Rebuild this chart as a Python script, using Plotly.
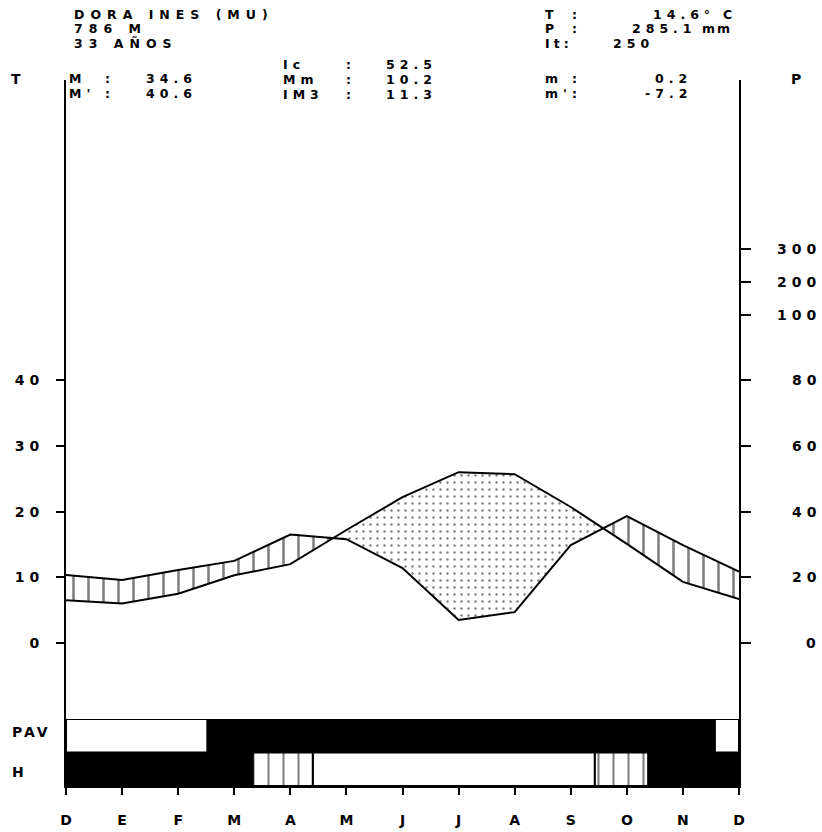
import plotly.graph_objects as go

# ---------------- data ----------------
months = ["D", "E", "F", "M", "A", "M", "J", "J", "A", "S", "O", "N", "D"]
temp = [6.5, 6.0, 7.5, 10.3, 12.0, 17.2, 22.2, 26.0, 25.7, 20.7, 15.1, 9.3, 6.7]      # deg C
prec = [20.7, 19.2, 22.2, 25.0, 33.0, 31.6, 22.8, 7.0, 9.4, 29.8, 38.6, 29.8, 21.7]   # mm

t_ticks = [0, 10, 20, 30, 40]
p_ticks = [0, 20, 40, 60, 80, 100, 200, 300]

# bottom strips: (start month, end month, kind)
pav_segments = [(0, 2.52, "white"), (2.52, 11.57, "black"), (11.57, 12, "white")]
h_segments = [(0, 3.33, "black"), (3.33, 4.40, "hatch"), (4.40, 9.43, "white"),
              (9.43, 10.38, "hatch"), (10.38, 12, "black")]

# ---------------- geometry ----------------
W, H = 822, 832
ML, MR, MT, MB = 66, 83, 80, 46
PW, PH = W - ML - MR, H - MT - MB
T0_PX, T10_PX = 643, 65.7  # pixel of T=0, pixels per 10 deg
y_lo = -(H - MB - T0_PX) / (T10_PX / 10)
y_hi = (T0_PX - MT) / (T10_PX / 10)


def p_to_t(p):
    # Walter-Lieth scale: P = 2T up to 100 mm, reduced 1/10 above
    return p / 2 if p <= 100 else 50 + (p - 100) / 20


def px(x):
    return (x - ML) / PW


def py(y):
    return (H - MB - y) / PH


FONT = "DejaVu Sans"


def sp(s, ls=3):
    return f'<span style="letter-spacing:{ls}px">{s}</span>'


# ---------------- curves with crossings ----------------
xs, tt, pp = [], [], []
n = len(temp)
for i in range(n):
    xs.append(i)
    tt.append(temp[i])
    pp.append(prec[i] / 2)
    if i < n - 1:
        d0 = prec[i] / 2 - temp[i]
        d1 = prec[i + 1] / 2 - temp[i + 1]
        if d0 * d1 < 0:
            f = d0 / (d0 - d1)
            xc = i + f
            tc = temp[i] + f * (temp[i + 1] - temp[i])
            xs.append(xc)
            tt.append(tc)
            pp.append(tc)

upper = [max(a, b) for a, b in zip(tt, pp)]
lower = [min(a, b) for a, b in zip(tt, pp)]

fig = go.Figure()
nol = dict(width=0)
# humid (vertical hatching)
fig.add_trace(go.Scatter(x=xs, y=tt, mode="lines", line=nol, showlegend=False, hoverinfo="skip"))
fig.add_trace(go.Scatter(x=xs, y=upper, mode="lines", line=nol, fill="tonexty", fillcolor="white",
                         fillpattern=dict(shape="|", size=15, solidity=0.17, fgcolor="black",
                                          bgcolor="white"),
                         showlegend=False, hoverinfo="skip"))
# arid (dots)
fig.add_trace(go.Scatter(x=xs, y=lower, mode="lines", line=nol, showlegend=False, hoverinfo="skip"))
fig.add_trace(go.Scatter(x=xs, y=tt, mode="lines", line=nol, fill="tonexty", fillcolor="white",
                         fillpattern=dict(shape=".", size=7, solidity=0.1, fgcolor="black",
                                          bgcolor="white"),
                         showlegend=False, hoverinfo="skip"))
# lines
fig.add_trace(go.Scatter(x=list(range(n)), y=temp, mode="lines", line=dict(color="black", width=2),
                         showlegend=False, name="T"))
fig.add_trace(go.Scatter(x=list(range(n)), y=[p / 2 for p in prec], mode="lines",
                         line=dict(color="black", width=2), showlegend=False, name="P"))

# ---------------- bottom strip ----------------
rows = {"PAV": 1, "H": 0}
for kind in ["black", "white", "hatch"]:
    bx, bb, by = [], [], []
    for name, segs in (("PAV", pav_segments), ("H", h_segments)):
        for a, b, k in segs:
            if k == kind:
                bx.append(b - a)
                bb.append(a)
                by.append(rows[name])
    if not bx:
        continue
    if kind == "black":
        marker = dict(color="black", line=dict(color="black", width=1))
    elif kind == "white":
        marker = dict(color="white", line=dict(color="black", width=2))
    else:
        marker = dict(color="white", line=dict(color="black", width=2),
                      pattern=dict(shape="|", size=15, solidity=0.14, fgcolor="black",
                                   bgcolor="white"))
    fig.add_trace(go.Bar(x=bx, base=bb, y=by, orientation="h", width=1, marker=marker,
                         yaxis="y3", showlegend=False, hoverinfo="skip"))

tickfont = dict(family=FONT, size=14, color="black", weight="bold")

fig.update_layout(
    width=W, height=H, margin=dict(l=ML, r=MR, t=MT, b=MB),
    paper_bgcolor="white", plot_bgcolor="white", barmode="overlay",
    xaxis=dict(range=[0, 12], showgrid=False, zeroline=False, showline=True, linecolor="black",
               linewidth=2, ticks="outside", ticklen=7, tickwidth=2, tickcolor="black",
               tickvals=list(range(13)), ticktext=[sp(m, 0) for m in months], tickfont=tickfont,
               ticklabelstandoff=13, automargin=False, fixedrange=True),
    yaxis=dict(range=[y_lo, y_hi], showgrid=False, zeroline=False, showline=True,
               linecolor="black", linewidth=2, ticks="outside", ticklen=8, tickwidth=2,
               tickcolor="black", tickvals=t_ticks, ticktext=[sp(str(v), 5) for v in t_ticks],
               tickfont=tickfont, ticklabelstandoff=9, automargin=False),
    yaxis2=dict(range=[y_lo, y_hi], overlaying="y", side="right", anchor="x", showgrid=False,
                zeroline=False, showline=True, linecolor="black", linewidth=2, ticks="outside",
                ticklen=10, tickwidth=2, tickcolor="black", automargin=False,
                tickvals=[p_to_t(p) for p in p_ticks], showticklabels=False),
    yaxis3=dict(domain=[0, (H - MB - 719) / PH], range=[-0.5, 1.5], anchor="x", visible=False,
                automargin=False),
)
# invisible trace to activate y2
fig.add_trace(go.Scatter(x=[0], y=[0], yaxis="y2", mode="markers", marker=dict(opacity=0),
                         showlegend=False, hoverinfo="skip"))

annots = []
TS = 12.5


def txt(s, x, y, anchor="left", ls=5, size=TS):
    annots.append(dict(text=sp(s, ls), x=px(x), y=py(y), xref="paper", yref="paper",
                       xanchor=anchor, yanchor="middle", showarrow=False, borderpad=0,
                       font=dict(family=FONT, size=size, color="black", weight="bold")))


# right axis labels
for p in p_ticks:
    annots.append(dict(text=sp(str(p), 5), x=px(822), y=p_to_t(p), xref="paper", yref="y2",
                       xanchor="right", yanchor="middle", showarrow=False, borderpad=0,
                       font=dict(family=FONT, size=14, color="black", weight="bold")))

txt("DORA INES (MU)", 73, 14.5, ls=6)
txt("786 M", 73, 29, ls=6)
txt("33 AÑOS", 73, 43.5, ls=6)
txt("T", 10, 79, size=14)
txt("P", 790, 79, size=14)
txt("M", 68, 79); txt(":", 104, 79); txt("34.6", 198, 79, "right")
txt("M'", 68, 93.5); txt(":", 104, 93.5); txt("40.6", 198, 93.5, "right")
txt("Ic", 282, 65); txt(":", 345, 65); txt("52.5", 438, 65, "right")
txt("Mm", 282, 79.5); txt(":", 345, 79.5); txt("10.2", 438, 79.5, "right")
txt("IM3", 282, 94); txt(":", 345, 94); txt("11.3", 438, 94, "right")
txt("T", 544, 14.5); txt(":", 571, 14.5); txt("14.6°", 716, 14.5, "right"); txt("C", 722, 14.5)
txt("P", 544, 29); txt(":", 571, 29); txt("285.1", 698, 29, "right"); txt("mm", 701, 29, ls=2)
txt("It:", 544, 43.5, ls=4); txt("250", 612, 43.5)
txt("m", 544, 79); txt(":", 571, 79); txt("0.2", 693, 79, "right")
txt("m'", 544, 93.5); txt(":", 571, 93.5); txt("-7.2", 693, 93.5, "right")
txt("PAV", 11, 732, size=14, ls=3)
txt("H", 11, 772, size=14)

fig.update_layout(annotations=annots)
fig.write_html("out.html")
